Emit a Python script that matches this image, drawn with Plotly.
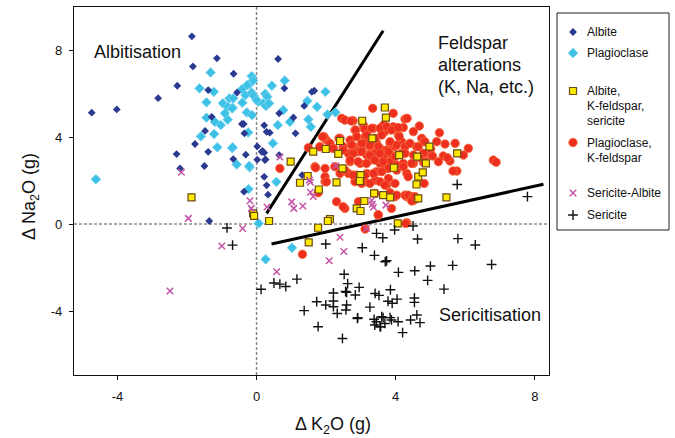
import plotly.graph_objects as go

# ---------------- data ----------------
albite_x = [-1.86, -1.14, -1.83, -0.66, -2.28, -2.83, -4.02, -4.74, -1.39, -0.56, -1.29, -0.42, -0.37,
            -1.48, -0.35, -1.77, -1.39, -2.30, -0.67, -0.31, 0.02, 0.02, -1.50, -2.20, -0.36, 0.22, 0.29,
            0.15, 0.26, 0.22, 0.29, 0.33, -1.36, 0.62, 0.80, 1.59, 1.66, 1.37, 1.06, 0.65, 1.12, 0.17,
            0.22, 0.24, 1.31, 0.65, 0.38]
albite_y = [8.63, 7.62, 7.25, 6.91, 6.36, 5.79, 5.27, 5.12, 6.16, 6.05, 4.93, 4.60, 4.60,
            4.28, 4.17, 3.68, 3.32, 3.22, 2.99, 3.19, 3.57, 2.96, 2.67, 2.56, 1.49, 4.54, 4.24,
            3.32, 2.97, 2.17, 1.78, 1.35, 0.14, 7.59, 6.24, 6.08, 6.13, 5.43, 4.90, 5.09, 4.17, 3.36,
            3.28, 2.94, 2.25, 3.17, 4.20]

plag_x = [-1.32, -1.64, -1.23, -1.44, -0.78, -0.97, -0.83, -0.69, -0.91, -0.83, -1.44, -1.20, -1.03,
          -1.22, -1.60, -1.13, -0.70, -0.57, -0.20, -4.62, -0.23, -0.41, -0.21, -0.14, -0.32, -0.14,
          -0.08, 0.05, -0.41, -0.28, -0.13, -0.24, 0.81, 0.44, 0.25, 0.31, 0.00, 0.19, 0.27, 0.36,
          0.77, 1.46, 1.74, 1.98, 0.96, 1.49, 1.56, 2.04, 2.27, 0.61, 0.47, 0.57, 0.06, 1.02, 0.26,
          -0.27, -0.67, -0.70, -0.69, -0.21, -0.10]
plag_y = [6.97, 6.24, 6.08, 5.60, 5.78, 5.55, 5.39, 5.35, 5.09, 4.80, 4.89, 4.70, 4.55,
          4.14, 4.03, 3.53, 3.49, 2.74, 2.61, 2.06, 1.61, 6.21, 6.42, 6.80, 5.93, 6.04,
          5.89, 5.62, 5.58, 5.13, 5.01, 4.21, 6.60, 6.36, 5.99, 5.85, 5.70, 5.55, 5.43, 5.55,
          5.24, 5.66, 5.39, 6.08, 4.70, 4.81, 4.47, 5.04, 5.14, 4.55, 3.71, 1.94, 0.03, -1.09, -1.62,
          6.39, 5.78, 5.32, 3.53, 2.67, 6.60]

akf_x = [3.69, 3.72, 3.04, 2.40, 1.99, 3.33, 4.10, 4.62, 2.35, 2.47, 3.95, 2.30, 2.99, 2.97, 4.65,
         4.60, 3.64, 3.84, 3.10, 2.88, 2.99, 2.11, 2.05, 4.06, -1.87, -0.10, -0.07, 0.36, 0.98, 1.25,
         1.63, 1.47, 1.79, 1.77, 1.50, 5.46, 5.77, 4.97, 4.78, 4.87, 4.65, 3.38]
akf_y = [5.36, 4.89, 4.75, 3.82, 3.45, 3.94, 3.17, 3.10, 3.23, 2.56, 2.59, 1.92, 2.25, 1.98, 2.18,
         1.82, 1.33, 1.23, 1.06, 0.72, 0.60, 0.23, 0.14, 0.03, 1.23, 0.49, 0.38, 0.14, 2.87, 1.90,
         3.33, 2.21, 1.59, -0.17, -0.84, 1.23, 3.25, 3.56, 2.38, 2.79, 1.18, 1.41]

pkf_x = [3.34, 3.93, 4.27, 4.68, 5.26, 2.45, 2.54, 2.78, 3.07, 3.36, 3.65, 3.93, 4.22, 2.83, 3.69,
         4.08, 4.51, 1.92, 2.01, 2.11, 2.40, 2.69, 3.12, 3.21, 3.45, 3.84, 4.17, 4.75, 1.49, 1.82,
         2.21, 2.49, 2.78, 3.02, 3.26, 3.55, 3.74, 3.98, 4.27, 4.41, 4.80, 5.18, 5.42, 5.71, 6.09,
         2.64, 2.93, 3.17, 3.41, 3.65, 3.88, 4.17, 4.51, 5.00, 5.37, 5.95, 6.81, 6.89, 2.69, 2.98,
         3.26, 3.55, 3.84, 4.22, 4.51, 4.80, 5.23, 5.56, 1.68, 1.97, 2.25, 2.40, 2.64, 2.88, 3.17,
         3.45, 3.69, 4.03, 4.32, 5.76, 0.67, 1.97, 2.83, 3.12, 3.41, 3.74, 3.98, 1.77, 3.41, 3.84,
         4.32, 4.53, 4.60, 2.30, 2.93, 2.54, 3.88, 3.50, 4.32, 4.27, 3.98,
         2.72, 2.85, 3.10, 3.31, 3.55, 3.74, 3.88, 4.07, 4.33, 4.10, 4.60, 1.94, 2.37, 2.88, 3.17,
         3.41, 3.60, 3.84, 4.03, 3.50, 3.26, 3.02, 2.73, 2.49, 2.20, 2.78, 3.02, 3.26, 3.55, 3.79,
         3.98, 4.27, 4.46, 2.69, 2.92, 3.16, 3.40, 3.64, 3.79, 4.03, 4.22, 2.54, 2.78, 3.12, 3.36,
         3.60, 1.97, 3.02, 3.26, 3.55, 3.79, 4.36, 3.69, 4.03, 4.36, 4.50, 4.46, 2.49,
         4.84, 5.01, 4.80, 5.06, 5.49, 4.70, 4.85, 5.65, 4.82, 4.56, 4.65,
         1.32, 3.12, 4.29, 3.50, 1.90, 1.70, 1.82, 2.01]
pkf_y = [5.32, 5.09, 4.83, 4.51, 4.20, 4.86, 4.78, 4.75, 4.55, 4.40, 4.55, 4.47, 4.44, 4.32, 4.25,
         4.09, 4.25, 4.02, 3.86, 3.71, 3.94, 3.86, 4.02, 3.79, 3.71, 3.71, 3.79, 3.94, 3.51, 3.56,
         3.48, 3.56, 3.59, 3.48, 3.56, 3.48, 3.40, 3.56, 3.56, 3.71, 3.79, 3.79, 3.68, 3.71, 3.48,
         3.25, 3.33, 3.17, 3.25, 3.10, 3.17, 3.25, 3.17, 3.17, 3.13, 3.17, 2.94, 2.84, 2.87, 2.79,
         2.94, 2.79, 2.87, 2.79, 2.79, 2.84, 2.87, 2.90, 2.64, 2.56, 2.64, 2.33, 2.33, 2.25, 2.33,
         2.41, 2.56, 2.48, 2.33, 2.44, 2.56, 1.95, 1.95, 1.95, 2.02, 1.79, 1.87, 1.44, 1.41, 1.44,
         1.26, 1.10, 1.18, 1.03, 1.03, 0.72, 0.72, 0.41, 0.06, 1.33, 1.26,
         4.74, 4.32, 4.37, 4.40, 4.40, 4.48, 4.32, 4.44, 4.86, 4.02, 3.56, 4.02, 3.94, 4.02, 4.09,
         3.94, 4.09, 3.79, 3.63, 3.56, 3.63, 3.71, 3.63, 3.40, 3.48, 3.25, 3.33, 3.17, 3.25, 3.33,
         3.10, 3.25, 2.79, 2.94, 2.87, 2.79, 2.94, 2.87, 2.56, 2.71, 2.64, 2.48, 2.25, 2.25, 2.33,
         2.41, 2.18, 1.87, 1.87, 1.95, 2.10, 2.18, 1.79, 1.33, 1.33, 1.26, 1.06, 0.80,
         3.79, 3.45, 3.25, 3.13, 3.05, 3.05, 2.87, 2.44, 1.87, 1.26, 3.56,
         -1.39, -0.23, 0.03, 0.43, 4.01, 2.59, 3.55, 1.94]

seralb_x = [-2.16, 0.67, 1.52, 1.55, 2.28, 1.55, 1.63, -0.19, -0.15, 0.30, 1.01, 1.07, 1.33, -1.96,
            -0.40, -1.00, -2.49, 0.58, 2.40, 2.51, 2.09, 3.16, 3.31, 3.33, 3.36, 3.72]
seralb_y = [2.38, 3.08, 2.02, 1.92, 2.68, 1.46, 1.27, 1.07, 0.72, 0.78, 1.02, 0.72, 0.83, 0.26,
            -0.20, -1.01, -3.08, -2.19, -0.61, -1.26, -1.69, -0.20, 1.08, 0.91, 0.77, 0.87]

ser_x = [-0.85, -0.69, 0.13, 0.50, 0.67, 0.84, 1.16, 1.99, 3.04, 3.39, 3.45, 2.52, 2.62, 2.95, 2.56,
         2.59, 2.21, 2.84, 1.73, 1.99, 2.21, 2.21, 2.59, 2.57, 2.32, 1.37, 2.91, 3.26, 3.41, 1.77,
         2.47, 3.38, 3.45, 3.40, 5.77, 7.79, 4.50, 3.97, 3.63, 4.63, 5.79, 6.29, 3.70, 3.74, 4.08,
         4.55, 5.00, 5.64, 6.76, 4.92, 5.39, 3.85, 3.52, 3.78, 3.90, 4.04, 4.54, 4.54, 2.90, 3.55,
         3.64, 3.69, 3.84, 3.88, 4.07, 4.43, 4.61, 4.70, 4.20, 3.60, 3.57]
ser_y = [-0.18, -0.97, -3.00, -2.71, -2.76, -2.87, -2.53, -0.92, -1.09, -1.44, -0.43, -2.31, -2.74,
         -2.91, -3.10, -3.14, -3.17, -3.26, -3.57, -3.72, -3.54, -3.80, -3.72, -3.95, -4.11, -3.98,
         -4.31, -3.82, -3.19, -4.72, -5.26, -4.38, -4.49, -4.64, 1.82, 1.26, -0.09, -0.27, -0.63,
         -0.69, -0.67, -0.96, -1.73, -1.69, -2.22, -2.15, -1.93, -1.90, -1.86, -2.59, -2.99, -3.02,
         -3.28, -3.55, -3.64, -3.45, -3.40, -3.60, -4.34, -4.72, -4.30, -4.57, -4.30, -4.41, -4.49,
         -4.41, -4.18, -4.53, -4.99, -4.26, -4.72]

# field boundary lines
upper_line_x = [0.29, 3.64]
upper_line_y = [0.49, 8.89]
lower_line_x = [0.43, 8.25]
lower_line_y = [-0.92, 1.83]

x_ticks = [-4, 0, 4, 8]
y_ticks = [-4, 0, 4, 8]

series_names = ["Albite", "Plagioclase", "Albite,<br>K-feldspar,<br>sericite",
                "Plagioclase,<br>K-feldspar", "Sericite-Albite", "Sericite"]

# ---------------- layout geometry (pixels) ----------------
W, H = 675, 438
PL, PR, PT, PB = 74, 549, 7, 375          # plot frame
LL, LR, LT, LB = 557, 669, 13, 230        # legend box
FONT = "Liberation Sans, Arial, sans-serif"


def px(xp):
    return xp / W


def py(yp):
    return 1 - yp / H


styles = {
    "albite": dict(symbol="diamond", size=6, color="#2B3990", line=dict(width=0)),
    "plag": dict(symbol="diamond", size=7.5, color="#3EC1E6", line=dict(width=0.8, color="#7FD6F0")),
    "akf": dict(symbol="square", size=7, color="#FFEA00", line=dict(width=1.2, color="#6B4A14")),
    "pkf": dict(symbol="circle", size=8.5, color="#EE2F1F", line=dict(width=0.8, color="#F56B3B")),
    "seralb": dict(symbol="x-thin", size=6.5, color="#C455A6", line=dict(width=1.5, color="#C455A6")),
    "ser": dict(symbol="cross-thin", size=7, color="#111111", line=dict(width=1.4, color="#111111")),
}

fig = go.Figure()

# boundary lines
fig.add_trace(go.Scatter(x=upper_line_x, y=upper_line_y, mode="lines",
                         line=dict(color="black", width=3), showlegend=False, hoverinfo="skip"))
fig.add_trace(go.Scatter(x=lower_line_x, y=lower_line_y, mode="lines",
                         line=dict(color="black", width=3), showlegend=False, hoverinfo="skip"))

data_series = [
    ("plag", plag_x, plag_y),
    ("albite", albite_x, albite_y),
    ("pkf", pkf_x, pkf_y),
    ("akf", akf_x, akf_y),
    ("seralb", seralb_x, seralb_y),
    ("ser", ser_x, ser_y),
]
for key, xs, ys in data_series:
    fig.add_trace(go.Scatter(x=xs, y=ys, mode="markers", marker=styles[key],
                             showlegend=False, name=key))

# ---------------- hand-built legend ----------------
legend_keys = ["albite", "plag", "akf", "pkf", "seralb", "ser"]
legend_marker_y = [32, 53, 91, 142.5, 193, 215]
for key, yy in zip(legend_keys, legend_marker_y):
    fig.add_trace(go.Scatter(x=[573], y=[yy], mode="markers", marker=styles[key],
                             xaxis="x2", yaxis="y2", showlegend=False, hoverinfo="skip"))

annotations = []
line_h = 15
for name, yy in zip(series_names, legend_marker_y):
    for i, ln in enumerate(name.split("<br>")):
        annotations.append(dict(x=585, y=yy + i * line_h, xref="x2", yref="y2", text=ln,
                                showarrow=False, xanchor="left", yanchor="middle",
                                font=dict(family=FONT, size=12, color="#111")))

# region labels
region_font = dict(family=FONT, size=18, color="#111")
for text, xp, yp in [("Albitisation", 92, 52), ("Feldspar", 436, 43), ("alterations", 436, 65),
                     ("(K, Na, etc.)", 436, 87), ("Sericitisation", 437, 315)]:
    annotations.append(dict(x=px(xp), y=py(yp), xref="paper", yref="paper", text=text,
                            showarrow=False, xanchor="left", yanchor="middle", font=region_font))

# axis titles
annotations.append(dict(x=px(333), y=py(425), xref="paper", yref="paper",
                        text="Δ K<sub>2</sub>O (g)", showarrow=False, xanchor="center",
                        yanchor="middle", font=dict(family=FONT, size=18, color="#111")))
annotations.append(dict(x=px(31), y=py(197), xref="paper", yref="paper",
                        text="Δ Na<sub>2</sub>O (g)", showarrow=False, textangle=-90,
                        xanchor="center", yanchor="middle", font=dict(family=FONT, size=18, color="#111")))

shapes = [
    # dotted zero lines
    dict(type="line", xref="x", yref="y domain", x0=0, x1=0, y0=0, y1=1,
         line=dict(color="#8C8C8C", width=1.5, dash="3px,2px"), layer="below"),
    dict(type="line", xref="x domain", yref="y", x0=0, x1=1, y0=0, y1=0,
         line=dict(color="#8C8C8C", width=1.5, dash="3px,2px"), layer="below"),
    # legend frame
    dict(type="rect", xref="paper", yref="paper", x0=px(LL), x1=px(LR), y0=py(LB), y1=py(LT),
         line=dict(color="#222", width=1), fillcolor="rgba(0,0,0,0)"),
]

axis_common = dict(showgrid=False, zeroline=False, showline=True, linecolor="#111", linewidth=1.2,
                   mirror=True, ticks="outside", ticklen=4, tickwidth=1, tickcolor="#111",
                   tickfont=dict(family=FONT, size=13, color="#111"))

fig.update_layout(
    width=W, height=H, margin=dict(l=0, r=0, t=0, b=0),
    paper_bgcolor="white", plot_bgcolor="white", showlegend=False,
    xaxis=dict(domain=[px(PL), px(PR)], range=[-5.25, 8.41], tickvals=x_ticks,
               ticktext=[str(v) for v in x_ticks], ticklabelstandoff=5, **axis_common),
    yaxis=dict(domain=[py(PB), py(PT)], range=[-6.94, 9.98], tickvals=y_ticks,
               ticktext=[str(v) for v in y_ticks], ticklabelstandoff=4, **axis_common),
    xaxis2=dict(domain=[px(LL), px(LR)], range=[LL, LR], visible=False, fixedrange=True),
    yaxis2=dict(domain=[py(LB), py(LT)], range=[LB, LT], visible=False, fixedrange=True),
    annotations=annotations, shapes=shapes,
)

fig.write_html("out.html", config={"displayModeBar": False},
               post_script="document.body.style.margin='0';document.body.style.overflow='hidden';")
